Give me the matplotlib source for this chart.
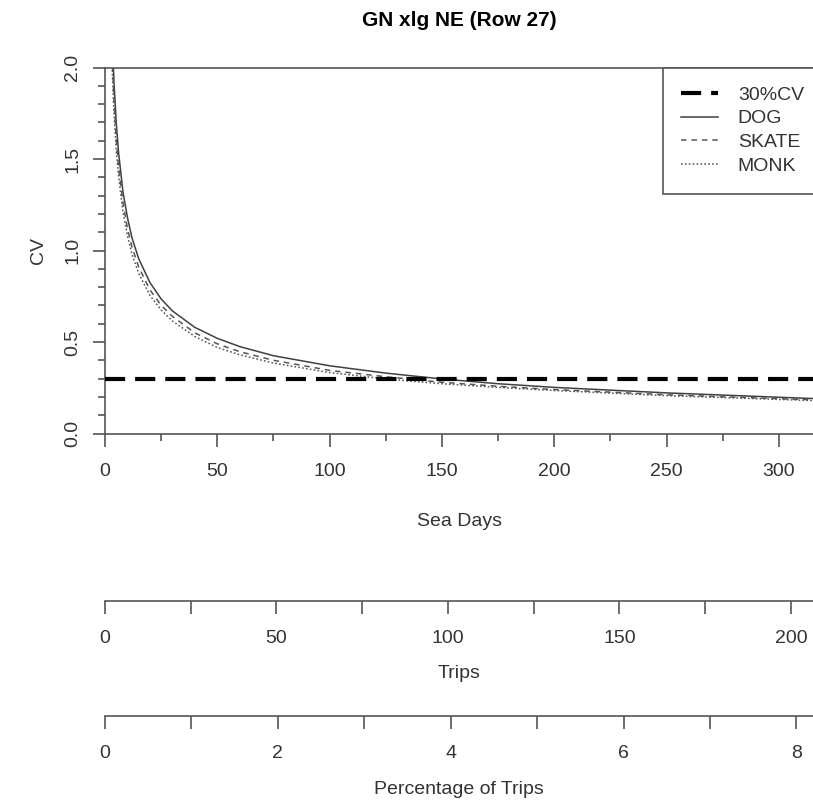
import numpy as np
import matplotlib
matplotlib.use("Agg")
import matplotlib.pyplot as plt

plt.rcParams['font.family'] = ['Liberation Sans', 'DejaVu Sans']
plt.rcParams['lines.scale_dashes'] = False

# values
sea_days = [3, 4, 5, 6, 8, 10, 12, 15, 20, 25, 30, 40, 50, 60, 75,
            100, 125, 150, 175, 200, 250, 300, 320]
cv_dog = [2.25, 1.92, 1.70, 1.54, 1.32, 1.18, 1.07, 0.955, 0.825, 0.735, 0.67, 0.58,
          0.52, 0.475, 0.425, 0.37, 0.33, 0.298, 0.272, 0.252, 0.222, 0.198, 0.189]
cv_skate = [2.12, 1.82, 1.61, 1.46, 1.26, 1.12, 1.02, 0.91, 0.785, 0.70, 0.64, 0.55,
            0.49, 0.447, 0.40, 0.345, 0.31, 0.28, 0.258, 0.24, 0.212, 0.19, 0.183]
cv_monk = [2.05, 1.75, 1.55, 1.41, 1.21, 1.08, 0.98, 0.875, 0.755, 0.675, 0.615, 0.53,
           0.47, 0.43, 0.385, 0.333, 0.298, 0.272, 0.252, 0.235, 0.207, 0.186, 0.178]
cv_target = 0.3

x_max = 315.2          # sea days shown on the cropped plot
days_per_trip = 1.527
total_trips = 2520

sea_ticks = [0, 50, 100, 150, 200, 250, 300]
trip_ticks = [0, 50, 100, 150, 200]
pct_ticks = [0, 2, 4, 6, 8]

W, H = 813, 807
axis_col = '#555555'
text_col = '#333333'


def fx(px):
    return px / W


def fy(py):
    return 1 - py / H


fig = plt.figure(figsize=(W / 100, H / 100), dpi=100)

# main plot
ax = fig.add_axes([fx(105), fy(433.5), fx(813) - fx(105), fy(67.5) - fy(433.5)])
ax.plot(sea_days, cv_dog, color='#404040', lw=1.1, ls='-', label='DOG')
ax.plot(sea_days, cv_skate, color='#555555', lw=1.1, ls=(0, (4, 3.5)), label='SKATE')
ax.plot(sea_days, cv_monk, color='#555555', lw=1.1, ls=(0, (1.2, 1.6)), label='MONK')
ax.axhline(cv_target, color='black', lw=3, ls=(0, (14.5, 7.2)), label='30%CV',
           zorder=3)

ax.set_xlim(0, x_max)
ax.set_ylim(0, 2)
ax.spines['right'].set_visible(False)
for s in ['left', 'bottom', 'top']:
    ax.spines[s].set_color(axis_col)
    ax.spines[s].set_linewidth(1.2)

ax.set_xticks(sea_ticks)
ax.set_xticks(np.arange(25, x_max, 50), minor=True)
ax.set_yticks([0, 0.5, 1.0, 1.5, 2.0])
ax.set_yticks(np.arange(0.1, 2.0, 0.1), minor=True)
ax.set_yticklabels(['0.0', '0.5', '1.0', '1.5', '2.0'], rotation=90, va='center')
ax.tick_params(which='major', length=9, width=1.2, color=axis_col,
               labelsize=14, labelcolor=text_col)
ax.tick_params(which='minor', length=5, width=1.2, color=axis_col)
ax.tick_params(axis='x', which='major', pad=12)
ax.tick_params(axis='y', which='major', pad=8)

handles, labels = ax.get_legend_handles_labels()
order = [3, 0, 1, 2]
leg = ax.legend([handles[i] for i in order], [labels[i] for i in order],
                loc='upper left', bbox_to_anchor=(fx(663), fy(67.5)),
                bbox_transform=fig.transFigure, borderaxespad=0,
                fontsize=14, handlelength=1.9, handletextpad=1.0,
                labelspacing=0.32, borderpad=0.95, fancybox=False,
                framealpha=1, edgecolor=axis_col)
leg.get_frame().set_linewidth(1.2)
for t in leg.get_texts():
    t.set_color(text_col)

ax.set_title('GN xlg NE (Row 27)', fontsize=15, fontweight='bold', pad=30)
fig.text(fx(38), fy(250), 'CV', rotation=90, fontsize=14, color=text_col,
         ha='center', va='center')
fig.text(fx(459), fy(522), 'Sea Days', fontsize=14, color=text_col,
         ha='center', va='center')


def extra_axis(y_px, xlim, ticks, minor_step, title, title_y):
    a = fig.add_axes([fx(105), fy(y_px), fx(813) - fx(105), 0.0001])
    a.set_xlim(0, xlim)
    a.set_yticks([])
    for s in ['left', 'right', 'top']:
        a.spines[s].set_visible(False)
    a.spines['bottom'].set_color(axis_col)
    a.spines['bottom'].set_linewidth(1.2)
    a.set_xticks(np.arange(0, xlim, minor_step), minor=True)
    a.set_xticks(ticks)
    a.tick_params(which='both', length=9, width=1.2, color=axis_col)
    a.tick_params(which='major', labelsize=14, labelcolor=text_col, pad=12)
    a.patch.set_visible(False)
    fig.text(fx(459), fy(title_y), title, fontsize=14, color=text_col,
             ha='center', va='center')
    return a


trip_max = x_max / days_per_trip
pct_max = trip_max / total_trips * 100
extra_axis(601, trip_max, trip_ticks, 25, 'Trips', 673)
extra_axis(716, pct_max, pct_ticks, 1, 'Percentage of Trips', 790)

fig.savefig('out.png', dpi=100)
